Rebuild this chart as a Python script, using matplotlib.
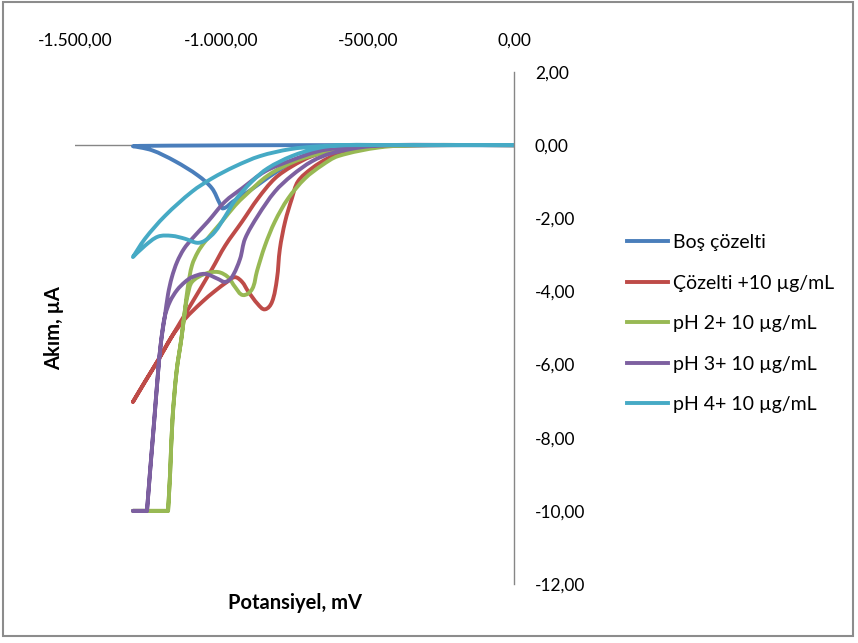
import numpy as np
import matplotlib
matplotlib.use('Agg')
import matplotlib.pyplot as plt
from matplotlib.path import Path
from matplotlib.patches import PathPatch, Rectangle
from matplotlib.lines import Line2D
from matplotlib.ticker import FuncFormatter, FixedLocator

plt.rcParams['font.family'] = ['Lato', 'DejaVu Sans']

# ---------------- data (potential mV, current uA) ----------------
labels = ['Boş çözelti', 'Çözelti +10 µg/mL', 'pH 2+ 10 µg/mL',
          'pH 3+ 10 µg/mL', 'pH 4+ 10 µg/mL']
colors = ['#4A7EBB', '#BE4B48', '#98B954', '#7D60A0', '#46AAC5']

blank_v = [0, -390, -731, -1073, -1278, -1302, -1237, -1158, -1080, -1032,
           -1005, -994, -960, -902, -834, -765, -697, -595, -458, 0]
blank_i = [0, 0, 0, -0.01, -0.02, -0.03, -0.14, -0.44, -0.83, -1.18,
           -1.60, -1.73, -1.54, -1.24, -0.85, -0.50, -0.22, -0.06, -0.01, 0]

sol_v = [0, -321, -458, -588, -636, -690, -738, -759, -782, -800, -810, -827,
         -851, -875, -909, -929, -953, -977, -1022, -1066, -1124, -1169,
         -1216, -1261, -1302,
         -1261, -1216, -1169, -1107, -1032, -987, -929, -875, -817, -759,
         -690, -612, -458, -287, 0]
sol_i = [0, 0, -0.03, -0.22, -0.36, -0.63, -0.99, -1.46, -2.09, -2.84, -3.66,
         -4.29, -4.49, -4.35, -3.99, -3.74, -3.61, -3.72, -3.99, -4.29, -4.75,
         -5.23, -5.88, -6.47, -7.02,
         -6.47, -5.88, -5.23, -4.40, -3.39, -2.75, -2.09, -1.46, -0.91, -0.58,
         -0.30, -0.14, -0.03, 0, 0]

ph2_v = [0, -321, -458, -601, -656, -714, -772, -817, -851, -878, -895, -926,
         -953, -977, -1011, -1056, -1100, -1114, -1124, -1136, -1153, -1167,
         -1175, -1182, -1302,
         -1182, -1175, -1167, -1153, -1136, -1124, -1114, -1100, -1080, -1056,
         -998, -953, -919, -841, -748, -656, -588, -458, -287, 0]
ph2_i = [0, 0, -0.06, -0.30, -0.55, -0.91, -1.46, -2.09, -2.75, -3.44, -3.94,
         -4.10, -3.88, -3.61, -3.47, -3.52, -3.74, -4.07, -4.49, -5.26, -6.19,
         -7.51, -8.97, -10, -10,
         -10, -8.97, -7.51, -6.19, -5.26, -4.49, -3.85, -3.28, -2.92, -2.64,
         -2.09, -1.65, -1.38, -0.83, -0.44, -0.22, -0.14, -0.03, 0, 0]

ph3_v = [0, -321, -492, -622, -690, -759, -817, -875, -919, -936, -964, -987,
         -1011, -1056, -1100, -1124, -1151, -1175, -1193, -1206, -1216, -1230,
         -1244, -1254, -1302,
         -1254, -1244, -1230, -1216, -1206, -1193, -1182, -1169, -1151, -1128,
         -1100, -1046, -987, -929, -851, -759, -670, -601, -458, 0]
ph3_i = [0, 0, -0.03, -0.22, -0.44, -0.83, -1.27, -1.93, -2.56, -3.11, -3.61,
         -3.74, -3.66, -3.52, -3.61, -3.74, -3.96, -4.27, -4.68, -5.37, -6.19,
         -7.60, -8.97, -10, -10,
         -10, -8.97, -7.60, -6.19, -5.37, -4.68, -4.07, -3.61, -3.19, -2.84,
         -2.56, -2.09, -1.54, -1.18, -0.72, -0.41, -0.17, -0.08, 0, 0]

ph4_v = [0, -390, -588, -670, -759, -841, -895, -953, -987, -1022, -1056,
         -1083, -1124, -1169, -1216, -1261, -1302,
         -1261, -1192, -1100, -1032, -953, -868, -765, -663, -540, 0]
ph4_i = [0, 0, 0, -0.08, -0.30, -0.63, -0.99, -1.51, -1.95, -2.37, -2.61,
         -2.67, -2.56, -2.48, -2.50, -2.75, -3.06,
         -2.56, -1.93, -1.27, -0.91, -0.58, -0.30, -0.11, -0.03, 0, 0]

series_v = [blank_v, sol_v, ph2_v, ph3_v, ph4_v]
series_i = [blank_i, sol_i, ph2_i, ph3_i, ph4_i]

x_ticks = [-1500, -1000, -500, 0]
y_ticks = [2, 0, -2, -4, -6, -8, -10, -12]

# ---------------- figure ----------------
W, H = 858, 643
fig = plt.figure(figsize=(W / 100, H / 100), dpi=100)
fig.patch.set_facecolor('white')

ax_l, ax_r, ax_t, ax_b = 75, 514, 72, 584
ax = fig.add_axes([ax_l / W, 1 - ax_b / H, (ax_r - ax_l) / W, (ax_b - ax_t) / H])
ax.set_xlim(-1500, 0)
ax.set_ylim(-12, 2)
ax.set_facecolor('none')

# pixel-like scale used only for the shape of the smoothed line
sx = (ax_r - ax_l) / 1500.0
sy = (ax_b - ax_t) / 14.0


def smooth_path(xs, ys):
    P = np.column_stack([np.asarray(xs, float) * sx, np.asarray(ys, float) * sy])
    n = len(P)
    D = np.zeros_like(P)
    for k in range(n):
        a = P[max(k - 1, 0)]
        b = P[min(k + 1, n - 1)]
        d = b - a
        if 0 < k < n - 1:
            dx1 = P[k, 0] - P[k - 1, 0]
            dx2 = P[k + 1, 0] - P[k, 0]
            if dx1 * dx2 < 0:
                d = np.zeros(2)
        if ys[k] <= -10:
            d = np.zeros(2)
        nrm = np.hypot(*d)
        D[k] = d / nrm if nrm > 0 else 0
    verts = [P[0]]
    codes = [Path.MOVETO]
    for k in range(n - 1):
        L = np.hypot(*(P[k + 1] - P[k]))
        verts += [P[k] + D[k] * L / 3, P[k + 1] - D[k + 1] * L / 3, P[k + 1]]
        codes += [Path.CURVE4] * 3
    V = np.array(verts)
    V[:, 0] /= sx
    V[:, 1] /= sy
    return Path(V, codes)


ax.axhline(0, color='#868686', lw=1.0, zorder=1)

for v, i, c in zip(series_v, series_i, colors):
    patch = PathPatch(smooth_path(v, i), fill=False, edgecolor=c, lw=2.8,
                      capstyle='round', joinstyle='round', zorder=2)
    ax.add_patch(patch)

for s in ['left', 'top', 'bottom']:
    ax.spines[s].set_visible(False)
ax.spines['right'].set_color('#868686')
ax.spines['right'].set_linewidth(1.0)


def tr_fmt(val, pos=None):
    s = f"{abs(val):,.2f}".replace(',', 'X').replace('.', ',').replace('X', '.')
    return ('-' + s) if val < 0 else s


ax.xaxis.set_major_locator(FixedLocator(x_ticks))
ax.yaxis.set_major_locator(FixedLocator(y_ticks))
ax.xaxis.set_major_formatter(FuncFormatter(tr_fmt))
ax.yaxis.set_major_formatter(FuncFormatter(tr_fmt))
ax.xaxis.set_ticks_position('top')
ax.yaxis.set_ticks_position('right')
ax.tick_params(axis='x', length=0, pad=17, labelsize=12.5, colors='black')
ax.tick_params(axis='y', length=0, pad=15, labelsize=12.5, colors='black')

fig.text(295 / W, 1 - 603 / H, 'Potansiyel, mV', ha='center', va='center',
         fontsize=14.5, fontweight='bold')
fig.text(54 / W, 1 - 328 / H, 'Akım, µA', ha='center', va='center',
         rotation=90, fontsize=14.5, fontweight='bold')

handles = [Line2D([], [], color=c, lw=2.8) for c in colors]
fig.legend(handles, labels, loc='upper left',
           bbox_to_anchor=(627 / W, 1 - 234 / H), frameon=False,
           fontsize=14, handlelength=2.1, handletextpad=0.27,
           labelspacing=1.21, borderpad=0, borderaxespad=0)

fig.add_artist(Rectangle((3 / W, 1 - 636 / H), 850 / W, 634 / H,
                         transform=fig.transFigure, fill=False,
                         edgecolor='#8C8C8C', lw=1.5))

fig.savefig('out.png', dpi=100)
